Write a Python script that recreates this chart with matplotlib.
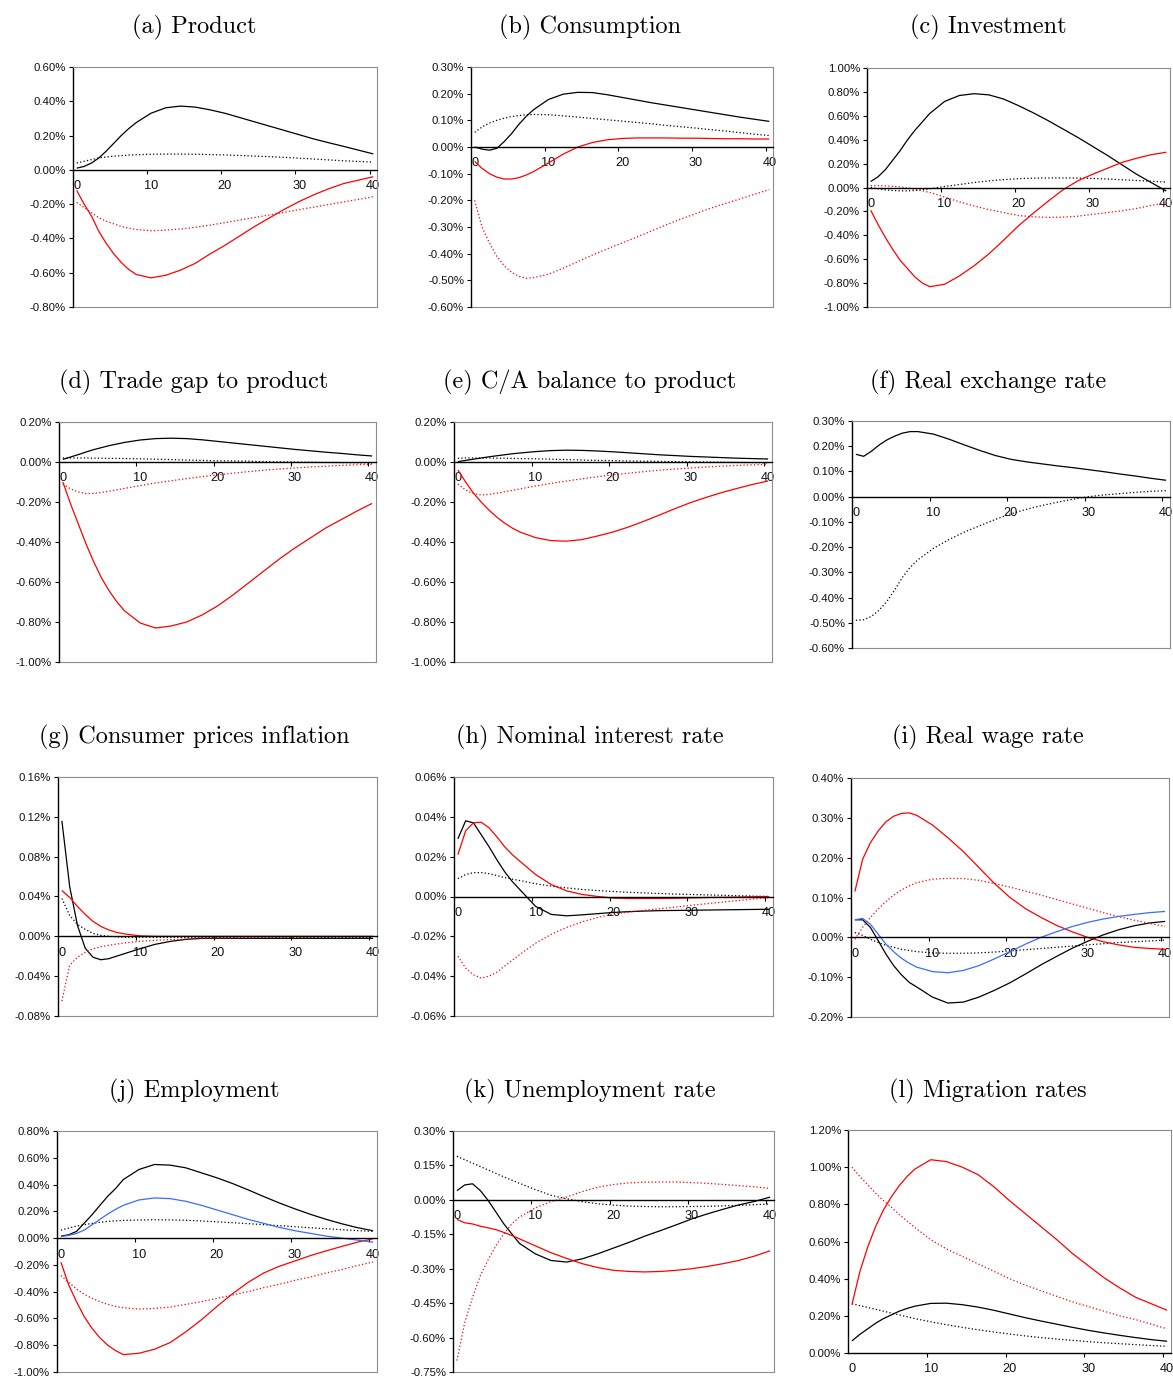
import matplotlib
matplotlib.use("Agg")
import matplotlib.pyplot as plt
from matplotlib.ticker import FuncFormatter, FixedLocator

# Quarters after the shock at which each response is tabulated
periods = [0, 1, 2, 3, 4, 5, 6, 7, 8, 10, 12, 14, 16, 18, 20,
           22, 24, 26, 28, 30, 32, 34, 36, 38, 40]

# ---- responses in percent deviation from steady state ----
# (a) Product
product_k = [0.01, 0.02, 0.04, 0.07, 0.11, 0.155, 0.20, 0.24, 0.275, 0.33, 0.362, 0.372, 0.366, 0.35, 0.33,
             0.305, 0.28, 0.255, 0.23, 0.205, 0.18, 0.158, 0.137, 0.115, 0.093]
product_k_dot = [0.04, 0.05, 0.06, 0.07, 0.075, 0.08, 0.083, 0.086, 0.088, 0.091, 0.092, 0.092, 0.091, 0.089, 0.087,
                 0.084, 0.08, 0.077, 0.073, 0.068, 0.063, 0.058, 0.053, 0.049, 0.045]
product_r = [-0.12, -0.20, -0.27, -0.36, -0.43, -0.49, -0.54, -0.58, -0.61, -0.63, -0.615, -0.585, -0.545, -0.49, -0.44,
             -0.385, -0.33, -0.28, -0.23, -0.185, -0.145, -0.11, -0.08, -0.06, -0.04]
product_r_dot = [-0.19, -0.22, -0.25, -0.28, -0.30, -0.315, -0.33, -0.34, -0.348, -0.355, -0.352, -0.345, -0.335, -0.322, -0.308,
                 -0.293, -0.278, -0.263, -0.248, -0.232, -0.217, -0.202, -0.187, -0.172, -0.157]

# (b) Consumption
consumption_k = [0.0, -0.008, -0.012, -0.005, 0.02, 0.05, 0.085, 0.115, 0.14, 0.178, 0.198, 0.205, 0.204, 0.196, 0.186,
                 0.176, 0.166, 0.157, 0.148, 0.139, 0.13, 0.121, 0.112, 0.104, 0.096]
consumption_k_dot = [0.055, 0.075, 0.09, 0.10, 0.108, 0.114, 0.118, 0.121, 0.122, 0.121, 0.117, 0.112, 0.107, 0.102, 0.097,
                     0.092, 0.087, 0.081, 0.076, 0.071, 0.065, 0.06, 0.054, 0.048, 0.043]
consumption_r = [-0.054, -0.08, -0.10, -0.113, -0.12, -0.12, -0.115, -0.105, -0.092, -0.06, -0.027, 0.0, 0.017, 0.027, 0.032,
                 0.034, 0.034, 0.034, 0.033, 0.033, 0.032, 0.031, 0.031, 0.030, 0.030]
consumption_r_dot = [-0.20, -0.30, -0.36, -0.41, -0.445, -0.47, -0.485, -0.492, -0.49, -0.477, -0.455, -0.43, -0.405, -0.382, -0.36,
                     -0.338, -0.315, -0.292, -0.27, -0.25, -0.23, -0.212, -0.195, -0.177, -0.16]

# (c) Investment
investment_k = [0.05, 0.09, 0.15, 0.23, 0.31, 0.40, 0.48, 0.55, 0.62, 0.72, 0.77, 0.785, 0.775, 0.74, 0.685,
                0.625, 0.56, 0.49, 0.42, 0.345, 0.27, 0.19, 0.11, 0.04, -0.03]
investment_k_dot = [0.0, -0.01, -0.02, -0.025, -0.028, -0.028, -0.025, -0.018, -0.01, 0.008, 0.025, 0.042, 0.055, 0.066, 0.074,
                    0.078, 0.08, 0.08, 0.079, 0.076, 0.071, 0.065, 0.059, 0.052, 0.045]
investment_r = [-0.19, -0.31, -0.42, -0.52, -0.61, -0.68, -0.75, -0.80, -0.83, -0.81, -0.74, -0.655, -0.555, -0.44, -0.32,
                -0.215, -0.115, -0.02, 0.055, 0.11, 0.16, 0.21, 0.245, 0.275, 0.295]
investment_r_dot = [0.015, 0.015, 0.013, 0.01, 0.005, -0.005, -0.015, -0.028, -0.042, -0.08, -0.12, -0.155, -0.185, -0.21, -0.235,
                    -0.245, -0.25, -0.248, -0.24, -0.225, -0.21, -0.195, -0.175, -0.15, -0.125]

# (d) Trade gap to product
trade_k = [0.013, 0.025, 0.037, 0.05, 0.062, 0.072, 0.082, 0.09, 0.098, 0.11, 0.117, 0.119, 0.117, 0.111, 0.103,
           0.095, 0.087, 0.079, 0.071, 0.063, 0.056, 0.049, 0.043, 0.036, 0.03]
trade_k_dot = [0.02, 0.02, 0.02, 0.02, 0.019, 0.019, 0.018, 0.018, 0.017, 0.016, 0.014, 0.012, 0.01, 0.008, 0.006,
               0.005, 0.004, 0.002, 0.001, 0.0, -0.001, -0.002, -0.003, -0.004, -0.005]
trade_r = [-0.10, -0.21, -0.31, -0.41, -0.50, -0.58, -0.645, -0.70, -0.745, -0.805, -0.83, -0.82, -0.80, -0.765, -0.72,
           -0.665, -0.605, -0.545, -0.485, -0.43, -0.38, -0.33, -0.288, -0.246, -0.207]
trade_r_dot = [-0.11, -0.135, -0.15, -0.158, -0.157, -0.152, -0.146, -0.139, -0.132, -0.118, -0.105, -0.094, -0.083, -0.073, -0.064,
               -0.056, -0.048, -0.041, -0.035, -0.03, -0.025, -0.021, -0.017, -0.014, -0.012]

# (e) C/A balance to product
ca_k = [0.002, 0.008, 0.014, 0.02, 0.026, 0.031, 0.036, 0.041, 0.045, 0.052, 0.057, 0.059, 0.058, 0.055, 0.051,
        0.046, 0.041, 0.036, 0.032, 0.028, 0.025, 0.022, 0.019, 0.017, 0.015]
ca_k_dot = [0.018, 0.02, 0.02, 0.02, 0.02, 0.019, 0.019, 0.018, 0.017, 0.016, 0.014, 0.012, 0.01, 0.008, 0.007,
            0.005, 0.004, 0.003, 0.002, 0.001, 0.0, -0.001, -0.002, -0.003, -0.004]
ca_r = [-0.04, -0.10, -0.155, -0.20, -0.24, -0.275, -0.305, -0.33, -0.35, -0.378, -0.393, -0.396, -0.388, -0.37, -0.35,
        -0.325, -0.296, -0.265, -0.233, -0.203, -0.177, -0.153, -0.132, -0.112, -0.095]
ca_r_dot = [-0.11, -0.14, -0.158, -0.165, -0.162, -0.156, -0.149, -0.142, -0.135, -0.12, -0.107, -0.095, -0.084, -0.074, -0.064,
            -0.056, -0.048, -0.041, -0.035, -0.03, -0.025, -0.021, -0.017, -0.014, -0.012]

# (f) Real exchange rate
rer_k = [0.168, 0.16, 0.18, 0.205, 0.225, 0.24, 0.252, 0.258, 0.258, 0.248, 0.228, 0.205, 0.183, 0.163, 0.148,
         0.138, 0.13, 0.122, 0.115, 0.107, 0.099, 0.09, 0.082, 0.073, 0.065]
rer_k_dot = [-0.49, -0.488, -0.475, -0.45, -0.415, -0.37, -0.32, -0.28, -0.25, -0.205, -0.17, -0.14, -0.115, -0.09, -0.068,
             -0.05, -0.035, -0.022, -0.01, 0.0, 0.007, 0.012, 0.017, 0.021, 0.024]

# (g) Consumer prices inflation
cpi_k = [0.116, 0.05, 0.011, -0.012, -0.021, -0.0235, -0.0225, -0.02, -0.0175, -0.0125, -0.008, -0.005, -0.003, -0.002, -0.002,
         -0.002, -0.002, -0.002, -0.002, -0.002, -0.002, -0.002, -0.002, -0.002, -0.002]
cpi_k_dot = [0.038, 0.021, 0.012, 0.007, 0.003, 0.001, 0.0, -0.0005, -0.001, -0.001, -0.001, -0.001, -0.001, -0.001, -0.001,
             -0.001, -0.001, -0.001, -0.001, -0.001, -0.001, -0.001, -0.001, -0.001, -0.001]
cpi_r = [0.046, 0.039, 0.030, 0.022, 0.015, 0.010, 0.0065, 0.004, 0.0025, 0.0005, 0.0, 0.0, 0.0, 0.0, 0.0,
         0.0, 0.0, 0.0, 0.0, 0.0, 0.0, 0.0, 0.0, 0.0, 0.0]
cpi_r_dot = [-0.065, -0.029, -0.021, -0.016, -0.0125, -0.0105, -0.009, -0.0078, -0.0067, -0.005, -0.004, -0.0033, -0.0027, -0.0022, -0.0018,
             -0.0015, -0.0012, -0.001, -0.0008, -0.0006, -0.0005, -0.0004, -0.0003, -0.0002, -0.0001]

# (h) Nominal interest rate
rate_k = [0.029, 0.038, 0.037, 0.031, 0.025, 0.0185, 0.0125, 0.0075, 0.0033, -0.005, -0.009, -0.0097, -0.0092, -0.0086, -0.008,
          -0.0076, -0.0073, -0.0071, -0.007, -0.0069, -0.0068, -0.0067, -0.0066, -0.0065, -0.0064]
rate_k_dot = [0.009, 0.011, 0.012, 0.012, 0.0115, 0.0105, 0.0095, 0.0087, 0.008, 0.0064, 0.0052, 0.0043, 0.0035, 0.003, 0.0025,
              0.0021, 0.0018, 0.0015, 0.0012, 0.001, 0.0008, 0.0006, 0.0004, 0.0002, 0.0]
rate_r = [0.021, 0.033, 0.037, 0.0373, 0.0345, 0.030, 0.025, 0.021, 0.0176, 0.011, 0.006, 0.0028, 0.001, 0.0, -0.0008,
          -0.001, -0.001, -0.001, -0.0009, -0.0007, -0.0005, -0.0004, -0.0003, -0.0001, 0.0]
rate_r_dot = [-0.030, -0.036, -0.0393, -0.041, -0.040, -0.038, -0.035, -0.032, -0.029, -0.0234, -0.019, -0.0155, -0.0127, -0.0105, -0.0088,
              -0.0078, -0.0069, -0.0061, -0.0053, -0.0044, -0.0036, -0.0028, -0.002, -0.0012, -0.0005]

# (i) Real wage rate
wage_k = [0.044, 0.044, 0.025, -0.008, -0.042, -0.071, -0.094, -0.113, -0.125, -0.15, -0.165, -0.1625, -0.15, -0.133, -0.114,
          -0.092, -0.069, -0.048, -0.0275, -0.01, 0.006, 0.019, 0.029, 0.036, 0.04]
wage_k_dot = [0.012, 0.005, -0.005, -0.013, -0.02, -0.025, -0.03, -0.033, -0.036, -0.039, -0.04, -0.04, -0.039, -0.037, -0.034,
              -0.031, -0.028, -0.025, -0.022, -0.019, -0.016, -0.013, -0.011, -0.009, -0.007]
wage_r = [0.115, 0.196, 0.2375, 0.267, 0.29, 0.304, 0.311, 0.3125, 0.306, 0.282, 0.25, 0.215, 0.175, 0.135, 0.10,
          0.072, 0.05, 0.03, 0.014, 0.0, -0.011, -0.019, -0.025, -0.028, -0.03]
wage_r_dot = [-0.005, 0.025, 0.05, 0.071, 0.09, 0.106, 0.119, 0.129, 0.1375, 0.146, 0.148, 0.1475, 0.143, 0.135, 0.126,
              0.116, 0.106, 0.095, 0.084, 0.073, 0.062, 0.052, 0.043, 0.035, 0.0275]
wage_b = [0.044, 0.0475, 0.033, 0.008, -0.017, -0.036, -0.0525, -0.065, -0.075, -0.086, -0.089, -0.083, -0.071, -0.054, -0.036,
          -0.017, 0.0, 0.014, 0.027, 0.0375, 0.046, 0.0525, 0.0575, 0.062, 0.065]

# (j) Employment
emp_k = [0.015, 0.025, 0.05, 0.1125, 0.175, 0.245, 0.3125, 0.37, 0.4375, 0.5125, 0.55, 0.545, 0.525, 0.4875, 0.45,
         0.4075, 0.36, 0.31, 0.262, 0.218, 0.177, 0.14, 0.107, 0.078, 0.055]
emp_k_dot = [0.06, 0.075, 0.09, 0.10, 0.11, 0.118, 0.125, 0.129, 0.132, 0.135, 0.137, 0.136, 0.133, 0.128, 0.122,
             0.115, 0.108, 0.10, 0.093, 0.085, 0.077, 0.07, 0.063, 0.056, 0.05]
emp_r = [-0.18, -0.35, -0.475, -0.5875, -0.675, -0.745, -0.80, -0.84, -0.87, -0.86, -0.83, -0.78, -0.70, -0.61, -0.51,
         -0.415, -0.33, -0.26, -0.21, -0.17, -0.13, -0.095, -0.062, -0.03, -0.005]
emp_r_dot = [-0.28, -0.33, -0.38, -0.42, -0.45, -0.475, -0.495, -0.51, -0.52, -0.53, -0.525, -0.515, -0.495, -0.475, -0.45,
             -0.425, -0.40, -0.37, -0.345, -0.315, -0.29, -0.26, -0.235, -0.205, -0.178]
emp_b = [0.012, 0.02, 0.035, 0.06, 0.10, 0.14, 0.18, 0.215, 0.245, 0.285, 0.30, 0.295, 0.275, 0.245, 0.21,
         0.175, 0.14, 0.11, 0.08, 0.055, 0.035, 0.015, 0.0, -0.015, -0.03]

# (k) Unemployment rate
unemp_k = [0.04, 0.065, 0.07, 0.04, -0.003, -0.054, -0.105, -0.148, -0.19, -0.235, -0.264, -0.271, -0.257, -0.235, -0.21,
           -0.185, -0.158, -0.134, -0.109, -0.083, -0.061, -0.041, -0.022, -0.007, 0.012]
unemp_k_dot = [0.19, 0.175, 0.16, 0.145, 0.13, 0.115, 0.10, 0.086, 0.072, 0.045, 0.02, 0.005, -0.008, -0.017, -0.023,
               -0.027, -0.029, -0.03, -0.03, -0.029, -0.028, -0.026, -0.024, -0.021, -0.018]
unemp_r = [-0.085, -0.10, -0.105, -0.115, -0.122, -0.13, -0.142, -0.155, -0.17, -0.20, -0.23, -0.255, -0.278, -0.295, -0.307,
           -0.312, -0.314, -0.312, -0.307, -0.30, -0.29, -0.278, -0.264, -0.245, -0.222]
unemp_r_dot = [-0.70, -0.535, -0.424, -0.33, -0.26, -0.199, -0.148, -0.105, -0.075, -0.035, -0.008, 0.012, 0.036, 0.055, 0.067,
               0.074, 0.077, 0.078, 0.078, 0.075, 0.072, 0.067, 0.062, 0.057, 0.05]

# (l) Migration rates
migr_k = [0.065, 0.10, 0.13, 0.16, 0.185, 0.205, 0.225, 0.24, 0.252, 0.267, 0.268, 0.26, 0.247, 0.23, 0.21,
          0.19, 0.172, 0.155, 0.138, 0.122, 0.108, 0.095, 0.083, 0.072, 0.063]
migr_k_dot = [0.265, 0.255, 0.245, 0.235, 0.225, 0.215, 0.205, 0.195, 0.185, 0.168, 0.152, 0.138, 0.125, 0.113, 0.102,
              0.092, 0.083, 0.075, 0.068, 0.061, 0.055, 0.05, 0.045, 0.04, 0.036]
migr_r = [0.26, 0.437, 0.57, 0.68, 0.77, 0.84, 0.90, 0.95, 0.99, 1.04, 1.03, 1.0, 0.96, 0.895, 0.82,
          0.75, 0.68, 0.61, 0.535, 0.47, 0.405, 0.35, 0.30, 0.265, 0.23]
migr_r_dot = [1.0, 0.95, 0.905, 0.86, 0.82, 0.785, 0.745, 0.71, 0.675, 0.61, 0.56, 0.52, 0.48, 0.44, 0.40,
              0.365, 0.335, 0.305, 0.275, 0.25, 0.225, 0.2, 0.18, 0.155, 0.13]

titles = ["(a) Product", "(b) Consumption", "(c) Investment",
          "(d) Trade gap to product", "(e) C/A balance to product", "(f) Real exchange rate",
          "(g) Consumer prices inflation", "(h) Nominal interest rate", "(i) Real wage rate",
          "(j) Employment", "(k) Unemployment rate", "(l) Migration rates"]

# y-axis range and major step for each panel (percent)
y_ranges = [(-0.8, 0.6, 0.2), (-0.6, 0.3, 0.1), (-1.0, 1.0, 0.2),
            (-1.0, 0.2, 0.2), (-1.0, 0.2, 0.2), (-0.6, 0.3, 0.1),
            (-0.08, 0.16, 0.04), (-0.06, 0.06, 0.02), (-0.2, 0.4, 0.1),
            (-1.0, 0.8, 0.2), (-0.75, 0.3, 0.15), (0.0, 1.2, 0.2)]

# series per panel: (values, colour, dotted?)
RED, BLUE = "#ff0000", "#3a6cff"
series = [
    [(product_k, "k", False), (product_k_dot, "k", True), (product_r, RED, False), (product_r_dot, RED, True)],
    [(consumption_k, "k", False), (consumption_k_dot, "k", True), (consumption_r, RED, False), (consumption_r_dot, RED, True)],
    [(investment_k, "k", False), (investment_k_dot, "k", True), (investment_r, RED, False), (investment_r_dot, RED, True)],
    [(trade_k, "k", False), (trade_k_dot, "k", True), (trade_r, RED, False), (trade_r_dot, RED, True)],
    [(ca_k, "k", False), (ca_k_dot, "k", True), (ca_r, RED, False), (ca_r_dot, RED, True)],
    [(rer_k, "k", False), (rer_k_dot, "k", True)],
    [(cpi_k, "k", False), (cpi_k_dot, "k", True), (cpi_r, RED, False), (cpi_r_dot, RED, True)],
    [(rate_k, "k", False), (rate_k_dot, "k", True), (rate_r, RED, False), (rate_r_dot, RED, True)],
    [(wage_k, "k", False), (wage_k_dot, "k", True), (wage_r, RED, False), (wage_r_dot, RED, True), (wage_b, BLUE, False)],
    [(emp_k, "k", False), (emp_k_dot, "k", True), (emp_r, RED, False), (emp_r_dot, RED, True), (emp_b, BLUE, False)],
    [(unemp_k, "k", False), (unemp_k_dot, "k", True), (unemp_r, RED, False), (unemp_r_dot, RED, True)],
    [(migr_k, "k", False), (migr_k_dot, "k", True), (migr_r, RED, False), (migr_r_dot, RED, True)],
]

W, H = 1173, 1376
# plot-area boxes in pixels: left, right, top, bottom
boxes = [(73, 377, 67, 307), (471, 773, 67, 307), (867, 1170, 68, 307),
         (59, 376, 422, 662), (454, 772, 422, 662), (852, 1170, 421, 648),
         (58, 377, 777, 1016), (454, 773, 777, 1016), (851, 1169, 778, 1017),
         (57, 377, 1131, 1372), (453, 774, 1131, 1372), (848, 1171, 1130, 1353)]
title_x = [194, 590, 988]
title_y = [27, 382, 737, 1091]

fig = plt.figure(figsize=(W / 100, H / 100), dpi=100)
fig.patch.set_facecolor("white")

SANS = "Liberation Sans"
GREY = "#8c8c8c"

for i in range(12):
    l, r, t, b = boxes[i]
    ax = fig.add_axes([l / W, 1 - b / H, (r - l) / W, (b - t) / H])
    lo, hi, step = y_ranges[i]
    n = int(round((hi - lo) / step))
    yt = [lo + k * step for k in range(n + 1)]
    ax.set_ylim(lo, hi)
    ax.set_xlim(-0.5, 40.5)
    ax.yaxis.set_major_locator(FixedLocator(yt))
    ax.yaxis.set_major_formatter(FuncFormatter(lambda v, p: f"{v:.2f}%".replace("-0.00", "0.00")))
    ax.set_xticks([0, 10, 20, 30, 40])
    ax.xaxis.set_minor_locator(FixedLocator([9.5, 19.5, 29.5, 39.5]))

    for vals, col, dotted in series[i]:
        ax.plot(periods, vals, color=col, lw=0.9,
                ls=(0, (1.0, 1.8)) if dotted else "-", solid_capstyle="butt")

    for s in ("top", "right"):
        ax.spines[s].set_color(GREY)
        ax.spines[s].set_linewidth(0.8)
    ax.spines["left"].set_color("k")
    ax.spines["left"].set_linewidth(1.0)
    ax.spines["bottom"].set_color("k")
    ax.spines["bottom"].set_linewidth(1.0)
    if lo < 0:
        ax.spines["bottom"].set_position(("data", 0))
        ax.plot([0, 1], [0, 0], transform=ax.transAxes, color=GREY, lw=0.8, clip_on=False)

    ax.tick_params(axis="y", which="major", direction="out", length=3, width=0.8, pad=2, colors="k")
    ax.tick_params(axis="x", which="major", length=0, pad=7.5)
    ax.tick_params(axis="x", which="minor", direction="out", length=3, width=0.8)
    for lab in ax.get_yticklabels():
        lab.set_fontfamily(SANS)
        lab.set_fontsize(8.2)
        lab.set_color("#111111")
    for lab in ax.get_xticklabels():
        lab.set_fontfamily(SANS)
        lab.set_fontsize(9.2)
        lab.set_color("#111111")

    fig.text(title_x[i % 3] / W, 1 - title_y[i // 3] / H, titles[i],
             ha="center", va="center", family="cmr10", fontsize=17.5)

fig.savefig("out.png", dpi=100, facecolor="white")
